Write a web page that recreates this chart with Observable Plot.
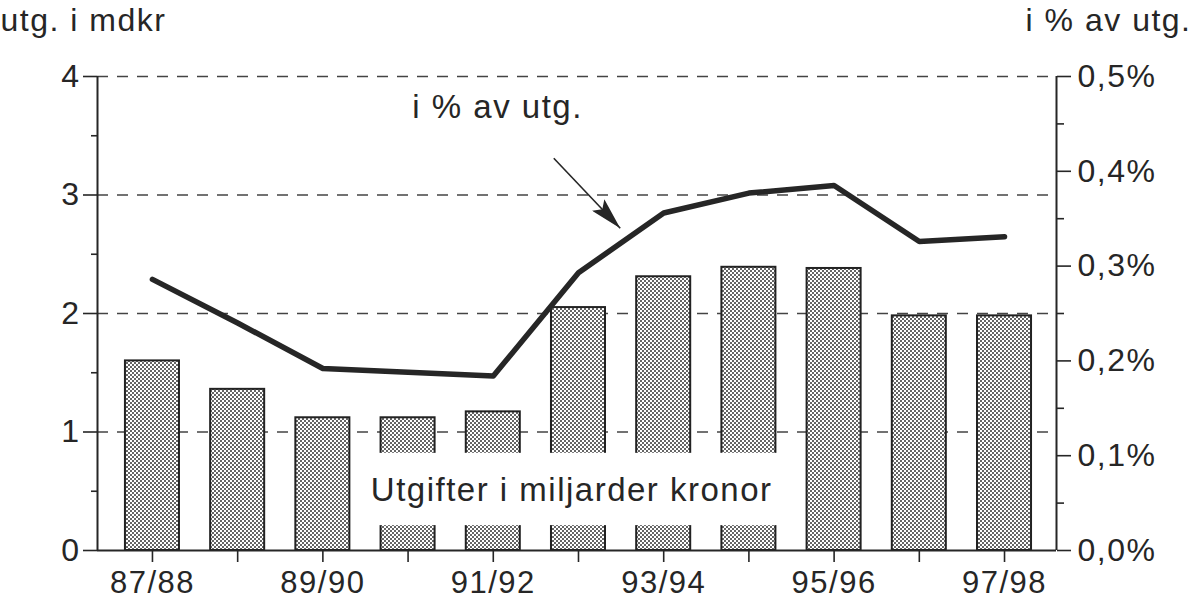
<!DOCTYPE html>
<html><head><meta charset="utf-8">
<script src="https://cdn.jsdelivr.net/npm/d3@7"></script>
<script src="https://cdn.jsdelivr.net/npm/@observablehq/plot@0.6"></script>
<style>
body{margin:0;background:#fff;}
#chart svg{font-family:"Liberation Sans",Arial,Helvetica,sans-serif;}
#chart svg text{letter-spacing:1.5px;}
</style></head><body><div id="chart"></div>
<script>
// ---- data ----
const years = ["87/88","88/89","89/90","90/91","91/92","92/93","93/94","94/95","95/96","96/97","97/98"];
const spending = [1.60, 1.36, 1.12, 1.12, 1.17, 2.05, 2.31, 2.39, 2.38, 1.98, 1.98]; // mrd kr
const share = [0.286, 0.240, 0.192, 0.188, 0.184, 0.293, 0.356, 0.377, 0.385, 0.326, 0.331]; // % av utg.
const leftTicks = [0, 1, 2, 3, 4];
const leftMinor = [0.5, 1.5, 2.5, 3.5];
const rightTicks = [0, 0.1, 0.2, 0.3, 0.4, 0.5];
const rightMinor = [0.05, 0.15, 0.25, 0.35, 0.45];
const gridValues = [1, 2, 3, 4];
const leftTitle = "utg. i mdkr";
const rightTitle = "i % av utg.";
const lineNote = [{text: "i % av utg.", x: 4.05, y: 3.74}];
const barNote = [{text: "Utgifter i miljarder kronor", x: 4.92, y: 0.51}];
const barNoteBox = [{x1: 2.35, x2: 7.64, y1: 0.21, y2: 0.82}];
const arrowNote = [{x1: 4.71, y1: 3.31, x2: 5.49, y2: 2.72}];

const ratio = 4 / 0.5; // percent axis -> left axis units
const xDomain = [-0.645, 10.61];
const halfBar = 0.317;
const data = years.map((y, i) => ({i, year: y, v: spending[i], p: share[i]}));
const pctFmt = d => d.toFixed(1).replace(".", ",") + "%";
const ink = "#262626";

const chart = Plot.plot({
  width: 1193, height: 601,
  marginLeft: 97, marginRight: 137, marginTop: 76, marginBottom: 51,
  style: {background: "#fff", color: ink, fontSize: "32px"},
  x: {domain: xDomain, axis: null},
  y: {domain: [0, 4], axis: null},
  marks: [
    Plot.ruleY(gridValues, {stroke: "#444", strokeWidth: 1.6, strokeDasharray: "11,9"}),
    Plot.rectY(data, {x1: d => d.i - halfBar, x2: d => d.i + halfBar, y: "v", fill: "url(#dots)", stroke: "#222", strokeWidth: 2}),
    Plot.rect(barNoteBox, {x1: "x1", x2: "x2", y1: "y1", y2: "y2", fill: "#fff"}),
    Plot.text(barNote, {x: "x", y: "y", text: "text", fontSize: 33, fill: ink}),
    Plot.line(data, {x: "i", y: d => d.p * ratio, stroke: "#262626", strokeWidth: 5.5, strokeLinecap: "round", strokeLinejoin: "round"}),
    Plot.link(arrowNote, {x1: "x1", y1: "y1", x2: "x2", y2: "y2", stroke: ink, strokeWidth: 1.6}),
    Plot.text(lineNote, {x: "x", y: "y", text: "text", fontSize: 33, fill: ink}),
    // axis lines
    Plot.ruleY([0], {stroke: ink, strokeWidth: 2}),
    Plot.ruleX(xDomain, {y1: 0, y2: 4, stroke: ink, strokeWidth: 2}),
    // left axis
    Plot.axisY(leftTicks, {anchor: "left", tickSize: 14, tickPadding: 3, strokeWidth: 1.6, tickFormat: d => String(d), label: null, fontSize: 32}),
    Plot.axisY(leftMinor, {anchor: "left", tickSize: 6, strokeWidth: 1.6, tickFormat: () => "", label: null}),
    // right axis
    Plot.axisY(rightTicks, {y: d => d * ratio, anchor: "right", tickSize: 14, tickPadding: 7, strokeWidth: 1.6, tickFormat: pctFmt, label: null, fontSize: 32}),
    Plot.axisY(rightMinor, {y: d => d * ratio, anchor: "right", tickSize: 7, strokeWidth: 1.6, tickFormat: () => "", label: null}),
    // x axis
    Plot.axisX(years.map((_, i) => i), {anchor: "bottom", tickSize: 12, tickPadding: 8, strokeWidth: 1.6, tickFormat: i => (i % 2 === 0 ? years[i] : ""), label: null, fontSize: 31}),
    // titles
    Plot.text([leftTitle], {frameAnchor: "top-left", textAnchor: "start", lineAnchor: "middle", dx: -97, dy: -56, fontSize: 32, fill: ink}),
    Plot.text([rightTitle], {frameAnchor: "top-right", textAnchor: "end", lineAnchor: "middle", dx: 135, dy: -56, fontSize: 32, fill: ink})
  ]
});

document.getElementById("chart").appendChild(chart);

// pattern + arrowhead definitions
const svg = d3.select(chart);
const defs = svg.insert("defs", ":first-child");
const pat = defs.append("pattern").attr("id", "dots").attr("patternUnits", "userSpaceOnUse").attr("width", 4).attr("height", 4);
pat.append("rect").attr("width", 4).attr("height", 4).attr("fill", "#fff");
pat.append("circle").attr("cx", 1).attr("cy", 1).attr("r", 0.95).attr("fill", "#222");
pat.append("circle").attr("cx", 3).attr("cy", 3).attr("r", 0.95).attr("fill", "#222");
const mk = defs.append("marker").attr("id", "ahead").attr("markerUnits", "userSpaceOnUse")
  .attr("viewBox", "0 0 32 17").attr("refX", 32).attr("refY", 8.5)
  .attr("markerWidth", 32).attr("markerHeight", 17).attr("orient", "auto");
mk.append("path").attr("d", "M0,0L32,8.5L0,17L6,8.5Z").attr("fill", ink);
svg.selectAll("g[aria-label=link] path").attr("marker-end", "url(#ahead)");
</script></body></html>
